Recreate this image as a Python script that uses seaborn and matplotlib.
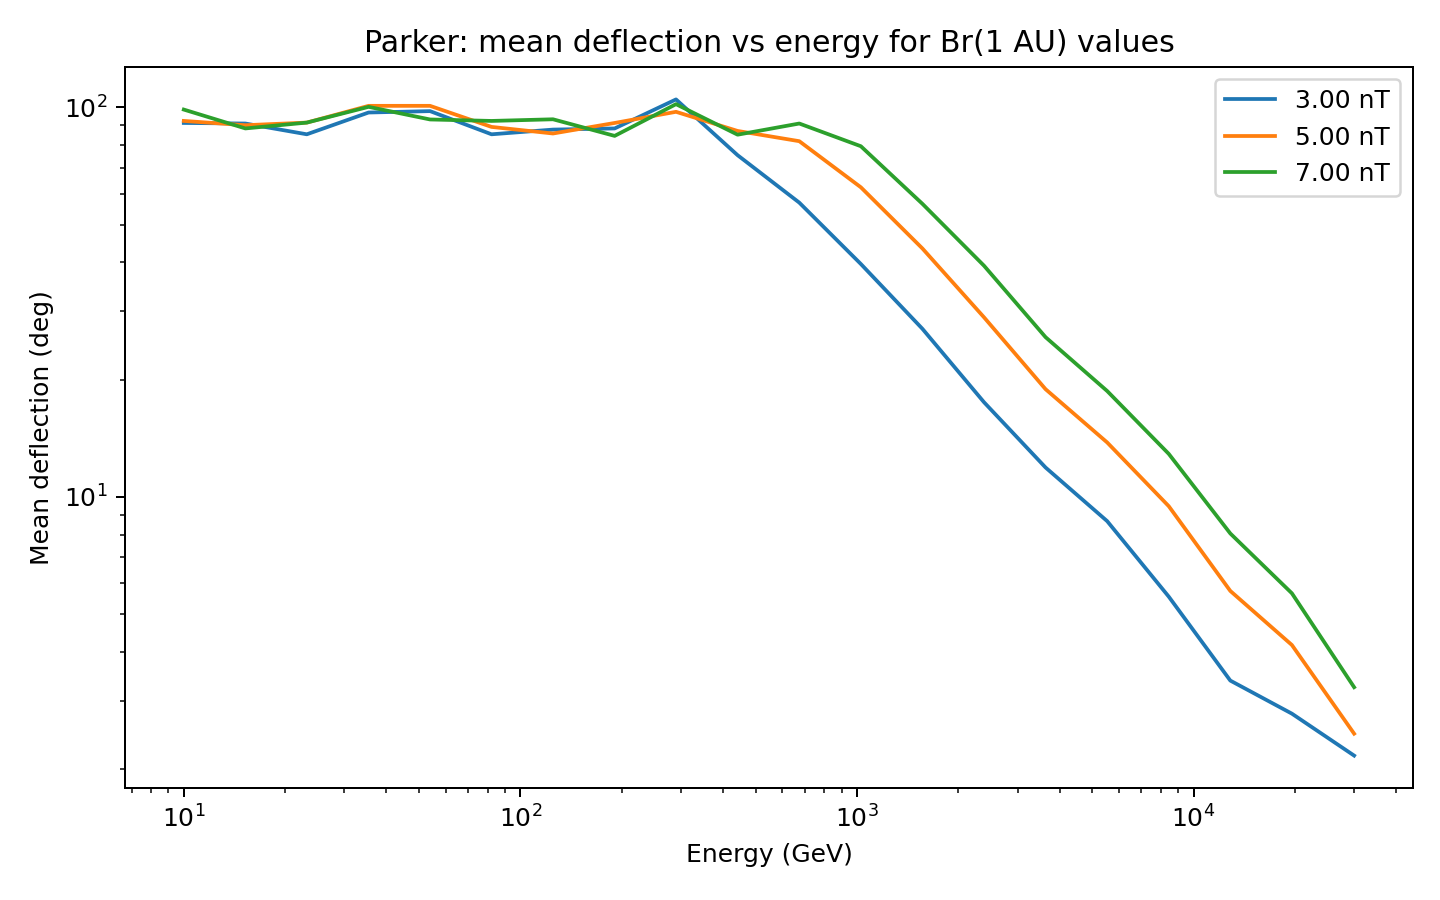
import pandas as pd
import seaborn as sns
import matplotlib.pyplot as plt

# Energy grid (GeV)
energies = [10, 15.24, 23.2, 35.4, 53.9, 82.1, 125, 190.6, 290, 442,
            674, 1027, 1565, 2385, 3634, 5538, 8440, 12860, 19600, 30000]

# Mean deflection (deg) for each Br(1 AU) value
defl_3nT = [91.1, 90.8, 85.2, 96.9, 97.7, 85.2, 87.6, 88.2, 104.7, 75.3,
            56.9, 39.6, 27.0, 17.5, 11.9, 8.67, 5.55, 3.38, 2.78, 2.17]
defl_5nT = [92.2, 89.9, 91.3, 100.8, 100.8, 89.0, 85.6, 91.1, 97.3, 86.9,
            81.8, 62.3, 43.4, 28.9, 18.9, 13.8, 9.47, 5.74, 4.17, 2.47]
defl_7nT = [98.6, 88.2, 91.3, 100.2, 93.0, 92.2, 93.1, 84.4, 101.8, 85.0,
            90.8, 79.4, 56.5, 39.2, 25.7, 18.7, 12.9, 8.06, 5.66, 3.25]

labels = ["3.00 nT", "5.00 nT", "7.00 nT"]


def plot_deflection():
    frames = []
    for lab, vals in zip(labels, [defl_3nT, defl_5nT, defl_7nT]):
        frames.append(pd.DataFrame({'energy': energies, 'deflection': vals, 'Br': lab}))
    df = pd.concat(frames, ignore_index=True)

    fig, ax = plt.subplots(figsize=(8, 5), dpi=180)
    sns.lineplot(data=df, x='energy', y='deflection', hue='Br',
                 palette=['#1f77b4', '#ff7f0e', '#2ca02c'], ax=ax, linewidth=1.5)
    ax.set_xscale('log')
    ax.set_yscale('log')

    ax.set_title('Parker: mean deflection vs energy for Br(1 AU) values')
    ax.set_xlabel('Energy (GeV)')
    ax.set_ylabel('Mean deflection (deg)')
    ax.legend(title=None, loc='upper right')

    fig.subplots_adjust(left=0.087, right=0.981, top=0.926, bottom=0.124)
    plt.savefig('out.png')
    print("Saved out.png")


if __name__ == "__main__":
    plot_deflection()
